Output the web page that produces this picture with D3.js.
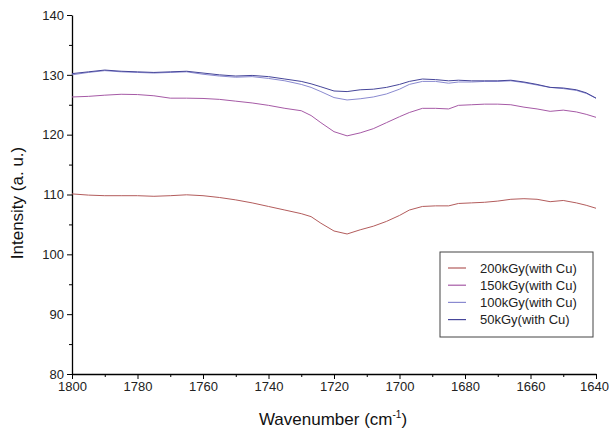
<!DOCTYPE html>
<html>
<head>
<meta charset="utf-8">
<script src="https://cdn.jsdelivr.net/npm/d3@7"></script>
<style>
  body { margin: 0; background: #fff; }
  svg { font-family: "Liberation Sans", Arial, sans-serif; }
</style>
</head>
<body>
<script>
// wavenumber grid (cm-1), shared by all series
var wavenumbers = [1800, 1795, 1790, 1785, 1780, 1775, 1770, 1765, 1760, 1755, 1750, 1745, 1740, 1735, 1730, 1727, 1724, 1720, 1716, 1712, 1708, 1704, 1700, 1697, 1693, 1689, 1685, 1682, 1678, 1674, 1670, 1666, 1662, 1658, 1654, 1650, 1646, 1643, 1640];

var kGy200 = [110.1, 109.9, 109.8, 109.8, 109.8, 109.7, 109.8, 109.95, 109.8, 109.5, 109.1, 108.6, 108.0, 107.4, 106.8, 106.3, 105.2, 103.9, 103.4, 104.1, 104.7, 105.5, 106.5, 107.4, 108.0, 108.1, 108.1, 108.5, 108.6, 108.7, 108.9, 109.2, 109.3, 109.2, 108.8, 109.0, 108.6, 108.2, 107.7];
var kGy150 = [126.3, 126.4, 126.6, 126.75, 126.7, 126.5, 126.1, 126.1, 126.05, 125.9, 125.6, 125.3, 124.9, 124.4, 124.0, 123.2, 122.0, 120.5, 119.8, 120.3, 121.0, 122.0, 123.0, 123.7, 124.4, 124.4, 124.3, 124.9, 125.0, 125.1, 125.1, 125.0, 124.6, 124.3, 123.9, 124.1, 123.8, 123.4, 122.9];
var kGy100 = [130.0, 130.4, 130.7, 130.5, 130.4, 130.3, 130.4, 130.5, 130.1, 129.8, 129.6, 129.7, 129.4, 129.0, 128.4, 127.9, 127.2, 126.2, 125.8, 126.0, 126.3, 126.8, 127.6, 128.4, 128.9, 128.9, 128.6, 128.8, 128.8, 128.9, 128.9, 129.0, 128.7, 128.3, 127.9, 127.7, 127.4, 126.9, 126.1];
var kGy50 = [130.2, 130.5, 130.8, 130.6, 130.5, 130.4, 130.5, 130.6, 130.3, 130.0, 129.8, 129.9, 129.7, 129.3, 128.9, 128.5, 128.0, 127.3, 127.2, 127.5, 127.6, 127.9, 128.4, 128.9, 129.3, 129.2, 129.0, 129.1, 129.0, 129.0, 129.0, 129.1, 128.8, 128.4, 127.9, 127.8, 127.5, 127.0, 126.1];

var seriesNames = ["200kGy(with Cu)", "150kGy(with Cu)", "100kGy(with Cu)", "50kGy(with Cu)"];
var seriesValues = [kGy200, kGy150, kGy100, kGy50];
var seriesColors = ["#b35c5c", "#a65aa6", "#8a8ad0", "#46469a"];

var xTicks = [1800, 1780, 1760, 1740, 1720, 1700, 1680, 1660, 1640];
var yTicks = [80, 90, 100, 110, 120, 130, 140];

var margin = { top: 15, right: 13, bottom: 59, left: 72 },
    width = 609 - margin.left - margin.right,
    height = 433 - margin.top - margin.bottom;

var x = d3.scaleLinear().domain([1800, 1640]).range([0, width]);
var y = d3.scaleLinear().domain([80, 140]).range([height, 0]);

var svg = d3.select("body").append("svg")
    .attr("width", 609)
    .attr("height", 433);

var g = svg.append("g")
    .attr("transform", "translate(" + margin.left + "," + margin.top + ")");

// minor ticks
var xMinor = d3.range(1790, 1640, -20);
var yMinor = d3.range(85, 140, 10);

g.append("g")
    .attr("transform", "translate(0," + height + ")")
    .call(d3.axisBottom(x).tickValues(xMinor).tickSize(3).tickFormat(""))
    .call(function (s) { s.select(".domain").remove(); });

g.append("g")
    .call(d3.axisLeft(y).tickValues(yMinor).tickSize(3).tickFormat(""))
    .call(function (s) { s.select(".domain").remove(); });

var xAxis = g.append("g")
    .attr("transform", "translate(0," + height + ")")
    .call(d3.axisBottom(x).tickValues(xTicks).tickSize(5).tickPadding(3).tickFormat(d3.format("d")).tickSizeOuter(0));

var yAxis = g.append("g")
    .call(d3.axisLeft(y).tickValues(yTicks).tickSize(5).tickPadding(3).tickFormat(d3.format("d")).tickSizeOuter(0));

[xAxis, yAxis].forEach(function (a) {
    a.selectAll("text").style("font-size", "13px").attr("fill", "#222")
        .style("font-family", "'Liberation Sans', Arial, sans-serif");
    a.select(".domain").attr("stroke-width", 1.3);
});
// keep the last label inside the picture
xAxis.selectAll(".tick text").filter(function (d) { return d === 1640; }).attr("dx", -2);

var line = d3.line()
    .x(function (d) { return x(d[0]); })
    .y(function (d) { return y(d[1]); });

seriesValues.forEach(function (vals, i) {
    var pts = wavenumbers.map(function (w, j) { return [w, vals[j]]; });
    g.append("path")
        .datum(pts)
        .attr("fill", "none")
        .attr("stroke", seriesColors[i])
        .attr("stroke-width", 1)
        .attr("d", line);
});

// axis titles
var xt = svg.append("text")
    .attr("x", 333)
    .attr("y", 425)
    .attr("text-anchor", "middle")
    .style("font-size", "17px")
    .attr("fill", "#111");
xt.append("tspan").text("Wavenumber (cm");
xt.append("tspan").attr("dy", -7).style("font-size", "10px").text("-1");
xt.append("tspan").attr("dy", 7).text(")");

svg.append("text")
    .attr("transform", "translate(23,203) rotate(-90)")
    .attr("text-anchor", "middle")
    .style("font-size", "17px")
    .attr("fill", "#111")
    .text("Intensity (a. u.)");

// legend
var legend = svg.append("g").attr("transform", "translate(440,252)");
legend.append("rect")
    .attr("width", 153)
    .attr("height", 85)
    .attr("fill", "#fff")
    .attr("stroke", "#444")
    .attr("stroke-width", 1);

var items = legend.selectAll(".item")
    .data(seriesNames)
    .enter().append("g")
    .attr("class", "item")
    .attr("transform", function (d, i) { return "translate(0," + (16 + i * 17.2) + ")"; });

items.append("line")
    .attr("x1", 8).attr("x2", 26)
    .attr("stroke", function (d, i) { return seriesColors[i]; })
    .attr("stroke-width", 1.2);

items.append("text")
    .attr("x", 40)
    .attr("dy", "0.35em")
    .style("font-size", "13px")
    .attr("fill", "#222")
    .text(function (d) { return d; });
</script>
</body>
</html>
